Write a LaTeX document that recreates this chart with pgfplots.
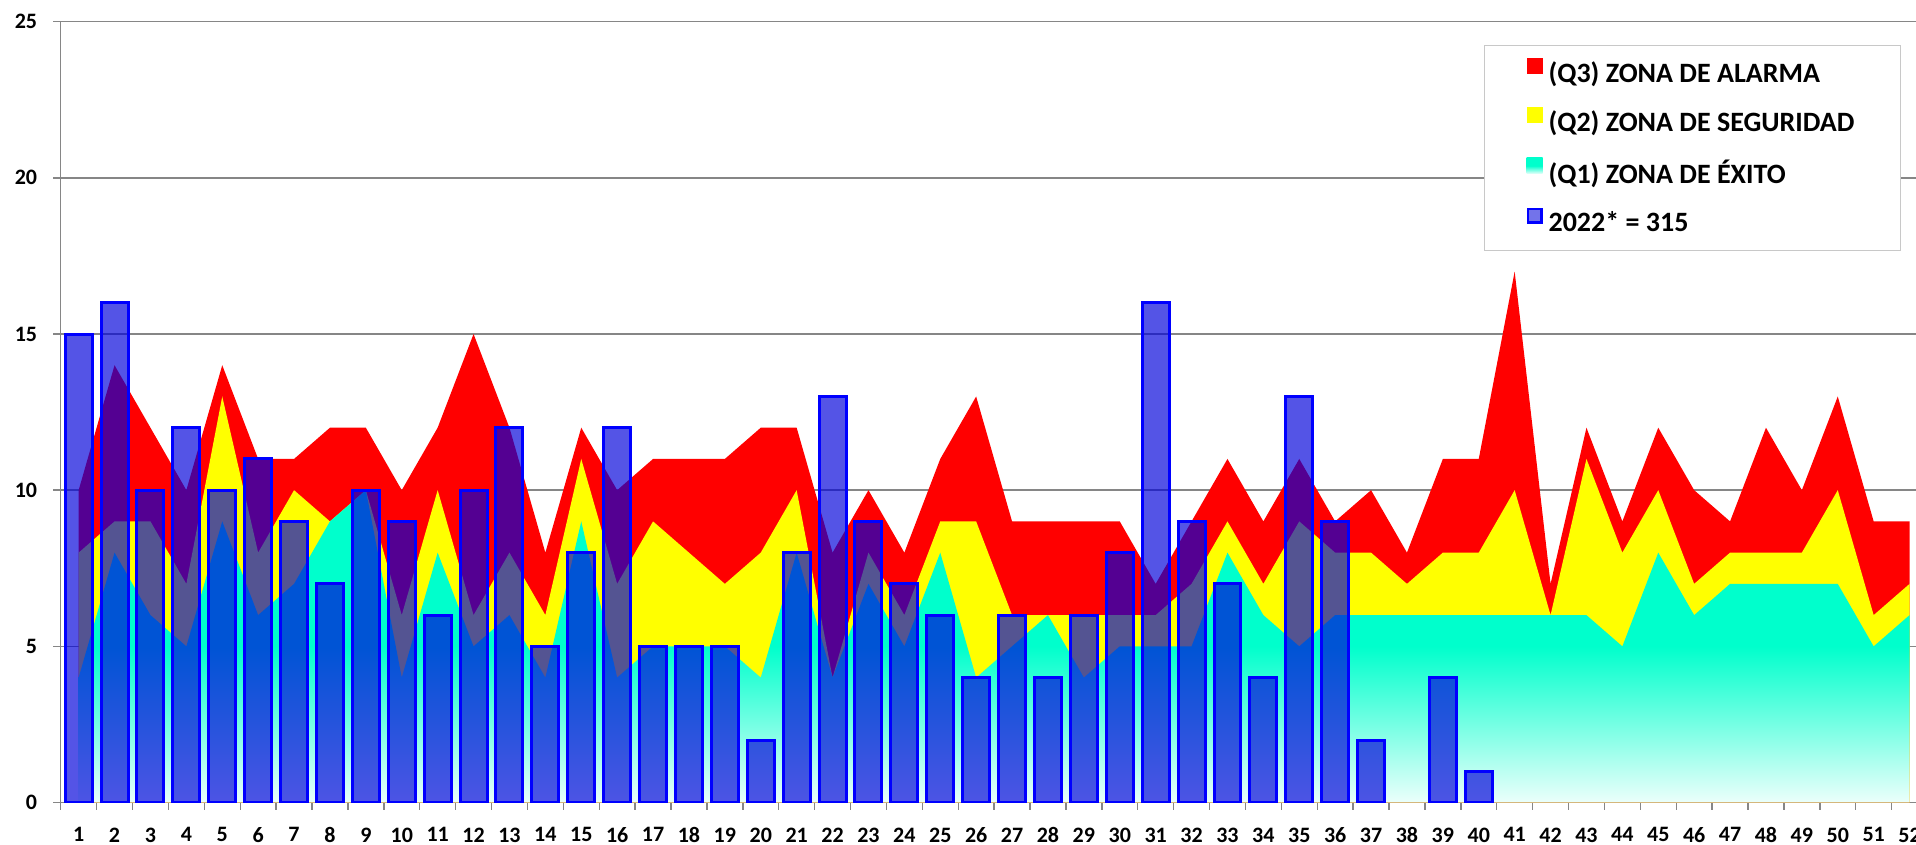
\documentclass[border=0pt]{standalone}
\usepackage{fontspec}
\setmainfont{Carlito}
\usepackage{pgfplots}
\pgfplotsset{compat=1.18}
\usepackage{pgfplotstable}
\definecolor{q3red}{RGB}{255,0,0}
\definecolor{q2yel}{RGB}{255,255,0}
\definecolor{q1cyan}{RGB}{0,255,204}
\definecolor{q1light}{RGB}{235,255,251}
\definecolor{barfill}{RGB}{0,0,218}
\definecolor{gridgray}{RGB}{134,134,134}
\definecolor{legborder}{RGB}{200,200,200}
\pgfdeclareverticalshading{q1shade}{100bp}{color(0bp)=(q1light); color(25bp)=(q1light); color(50bp)=(q1cyan); color(100bp)=(q1cyan)}

\pgfplotstableread{
x q3 q2 q1
1 10 8 4
2 14 9 8
3 12 9 6
4 10 7 5
5 14 13 9
6 11 8 6
7 11 10 7
8 12 9 9
9 12 10 10
10 10 6 4
11 12 10 8
12 15 6 5
13 12 8 6
14 8 6 4
15 12 11 9
16 10 7 4
17 11 9 5
18 11 8 5
19 11 7 5
20 12 8 4
21 12 10 8
22 8 4 4
23 10 8 7
24 8 6 5
25 11 9 8
26 13 9 4
27 9 6 5
28 9 6 6
29 9 6 4
30 9 6 5
31 7 6 5
32 9 7 5
33 11 9 8
34 9 7 6
35 11 9 5
36 9 8 6
37 10 8 6
38 8 7 6
39 11 8 6
40 11 8 6
41 17 10 6
42 7 6 6
43 12 11 6
44 9 8 5
45 12 10 8
46 10 7 6
47 9 8 7
48 12 8 7
49 10 8 7
50 13 10 7
51 9 6 5
52 9 7 6
}\zones

\pgfplotstableread{
x n
1 15
2 16
3 10
4 12
5 10
6 11
7 9
8 7
9 10
10 9
11 6
12 10
13 12
14 5
15 8
16 12
17 5
18 5
19 5
20 2
21 8
22 13
23 9
24 7
25 6
26 4
27 6
28 4
29 6
30 8
31 16
32 9
33 7
34 4
35 13
36 9
37 2
39 4
40 1
}\bars

\begin{document}
\begin{tikzpicture}
\begin{axis}[
  at={(0pt,0pt)}, anchor=south west,
  scale only axis, width=933.4pt, height=390.4pt,
  xmin=0.5, xmax=52.5, ymin=0, ymax=25,
  axis x line*=bottom, axis y line*=left,
  axis line style={draw=gridgray, line width=0.7pt},
  xtick={0.5,1.5,...,52.5},
  x tick label as interval,
  xticklabels={1,2,3,4,5,6,7,8,9,10,11,12,13,14,15,16,17,18,19,20,21,22,23,24,25,26,27,28,29,30,31,32,33,34,35,36,37,38,39,40,41,42,43,44,45,46,47,48,49,50,51,52},
  ytick={0,5,...,25},
  ymajorgrids, grid style={draw=gridgray, line width=0.7pt},
  tick align=outside,
  major tick length=3.75pt,
  tick style={draw=gridgray, line width=0.7pt},
  ticklabel style={font=\fontsize{11}{13}\selectfont\bfseries, text=black},
  /pgf/number format/assume math mode=true,
  yticklabel style={xshift=-4.5pt},
  xticklabel style={yshift=-5.3pt},
  legend style={
    at={(0.7624,0.9702)}, anchor=north west,
    draw=legborder, line width=0.6pt, fill=white,
    inner xsep=21pt, inner ysep=6pt, row sep=8.6pt, column sep=1pt,
    font=\fontsize{14}{16}\selectfont\bfseries,
  },
  legend cell align=left,
]
\addplot[draw=none, fill=q3red,
  legend image code/.code={\fill[q3red] (0pt,-0.5pt) rectangle (8pt,7.5pt);}]
  table[x=x, y=q3] {\zones} \closedcycle;
\addlegendentry{(Q3) ZONA DE ALARMA}
\addplot[draw=none, fill=q2yel,
  legend image code/.code={\fill[q2yel] (0pt,-0.5pt) rectangle (8pt,7.5pt);}]
  table[x=x, y=q2] {\zones} \closedcycle;
\addlegendentry{(Q2) ZONA DE SEGURIDAD}
\addplot[draw=none, shading=q1shade,
  legend image code/.code={\shade[shading=q1shade] (0pt,-0.5pt) rectangle (8pt,7.5pt);}]
  table[x=x, y=q1] {\zones} \closedcycle;
\addlegendentry{(Q1) ZONA DE ÉXITO}
\addplot[ybar, bar width=0.75, bar shift=0pt, draw=blue, line width=1.5pt,
  fill=barfill, fill opacity=0.67,
  legend image code/.code={\draw[blue, line width=1.2pt, fill=barfill, fill opacity=0.55] (0.6pt,0.1pt) rectangle (7.4pt,6.9pt);}]
  table[x=x, y=n] {\bars};
\addlegendentry{2022* = 315}
\end{axis}
\pgfresetboundingbox
\path[use as bounding box] (-30.35pt,-21.25pt) rectangle (927.65pt,401.25pt);
\end{tikzpicture}
\end{document}
